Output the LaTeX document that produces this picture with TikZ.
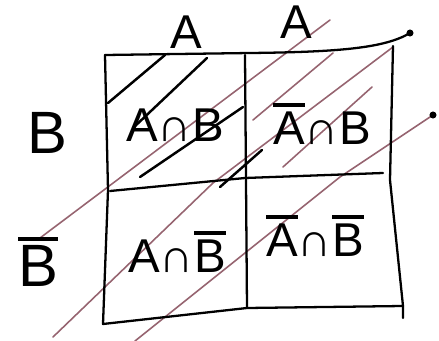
\documentclass[tikz,border=0pt]{standalone}
\usepackage{fontspec}
\setmainfont{Liberation Sans}
\definecolor{pinkgray}{RGB}{150,100,112}
% complement: a bar over the letters
\newcommand{\cmpl}[1]{\vbox{\hrule height 2pt\kern 3pt\hbox{#1}}}

\begin{document}
\begin{tikzpicture}[x=0.2mm, y=-0.2mm, line join=round, line cap=round,
  edge/.style={line width=1.3pt},
  hatch/.style={line width=1.4pt},
  faint/.style={line width=0.9pt, draw=pinkgray},
  lbl/.style={font=\fontsize{27}{30}\selectfont, inner sep=0pt},
  big/.style={font=\fontsize{34}{36}\selectfont, inner sep=0pt}]
	\useasboundingbox (0,0) rectangle (439,341);
	
	% corners of the table
	\coordinate (TL) at (105,55);
	\coordinate (TR) at (393,46);
	\coordinate (BL) at (103,324);
	\coordinate (BR) at (403,306);
	\coordinate (TM) at (245,55);
	\coordinate (BM) at (247,308);
	
	% long faint hatching
	\draw[faint] (40,238) -- (330,20);
	\draw[faint] (53,337) -- (213,183) -- (393,47);
	\draw[faint] (135,341) -- (340,177) -- (433,115);
	\draw[faint] (253,120) -- (333,53);
	\draw[faint] (283,167) -- (372,87);
	\fill (433,115) circle (2pt);
	
	% hatching of the first cell
	\draw[hatch] (108,103) -- (165,55);
	\draw[hatch] (133,128) -- (207,58);
	\draw[hatch] (140,177) -- (243,107);
	\draw[hatch] (220,187) -- (262,150);
	
	% frame and dividing lines
	\draw[edge] (TL) -- (250,53) .. controls (340,52) and (385,48) .. (410,33);
	\fill (410,33) circle (2pt);
	\draw[edge] (TL) -- (108,190) -- (BL) -- (BM) -- (BR);
	\draw[edge] (TR) -- (390,180) -- (BR) -- (403,318);
	\draw[edge] (TM) -- (BM);
	\draw[edge] (110,191) -- (245,178) -- (383,173);
	
	% headers
	\node[lbl] (hdrA) at (186,32) {A};
	\node[lbl] (hdrAc) at (296,22) {A};
	\node[big] (rowB) at (47,133) {B};
	\node[big] (rowBc) at (38,262) {\cmpl{B}};
	
	% cells
	\node[lbl] (cellAB) at (175,125) {A∩B};
	\node[lbl] (cellAcB) at (322,124) {\cmpl{A}∩B};
	\node[lbl] (cellABc) at (177,252) {A∩\cmpl{B}};
	\node[lbl] (cellAcBc) at (315,236) {\cmpl{A}∩\cmpl{B}};
\end{tikzpicture}
\end{document}
